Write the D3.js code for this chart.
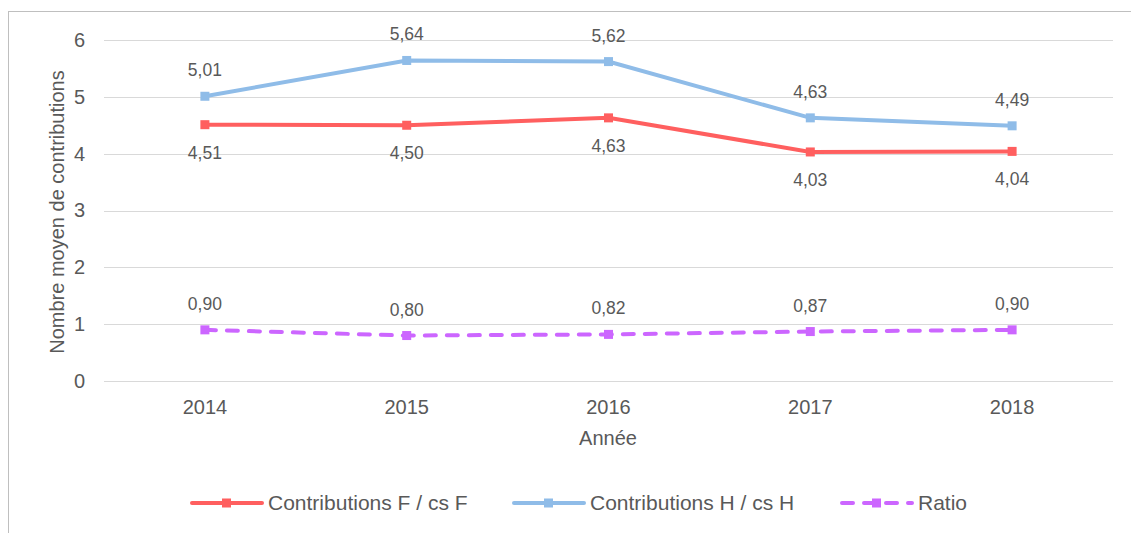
<!DOCTYPE html>
<html>
<head>
<meta charset="utf-8">
<script src="https://cdn.jsdelivr.net/npm/d3@7"></script>
<style>
  body { margin: 0; background: #fff; }
  text { font-family: "Liberation Sans", Arial, sans-serif; fill: #595959; }
</style>
</head>
<body>
<svg id="chart" width="1131" height="533"></svg>
<script>
var years = ["2014", "2015", "2016", "2017", "2018"];
var contribF = [4.51, 4.50, 4.63, 4.03, 4.04];
var contribH = [5.01, 5.64, 5.62, 4.63, 4.49];
var ratio = [0.90, 0.80, 0.82, 0.87, 0.90];
var yTicks = [0, 1, 2, 3, 4, 5, 6];

var series = [
    { name: "Contributions F / cs F", values: contribF, color: "#FF5F5F", dash: null, labelPos: "below" },
    { name: "Contributions H / cs H", values: contribH, color: "#8FBCE8", dash: null, labelPos: "above" },
    { name: "Ratio", values: ratio, color: "#CC66FF", dash: "11,11", labelPos: "above" }
];

var svg = d3.select("#chart");

// outer chart frame
svg.append("rect")
   .attr("x", 8.5).attr("y", 11.5)
   .attr("width", 1140).attr("height", 540)
   .attr("fill", "none")
   .attr("stroke", "#BFBFBF")
   .attr("stroke-width", 1);

var x = d3.scaleBand().domain(years).range([104, 1113]);
var y = d3.scaleLinear().domain([0, 6]).range([381, 40]);
var fmt = v => d3.format(".2f")(v).replace(".", ",");

// gridlines
svg.append("g")
   .selectAll("line")
   .data(yTicks)
   .enter()
   .append("line")
   .attr("x1", 104).attr("x2", 1113)
   .attr("y1", d => Math.round(y(d)) + 0.5)
   .attr("y2", d => Math.round(y(d)) + 0.5)
   .attr("stroke", "#D9D9D9")
   .attr("stroke-width", 1.2);

var yAxis = svg.append("g")
   .attr("transform", "translate(104,0)")
   .call(d3.axisLeft(y).tickValues(yTicks).tickFormat(d3.format("d")).tickSize(0).tickPadding(19));
yAxis.select(".domain").remove();
yAxis.selectAll("text").style("font-size", "20px").attr("fill", "#595959")
     .style("font-family", "Liberation Sans, Arial, sans-serif");

var xAxis = svg.append("g")
   .attr("transform", "translate(0,381)")
   .call(d3.axisBottom(x).tickSize(0).tickPadding(19));
xAxis.select(".domain").remove();
xAxis.selectAll("text").style("font-size", "20px").attr("fill", "#595959")
     .style("font-family", "Liberation Sans, Arial, sans-serif");

svg.append("text")
   .attr("transform", "translate(64,212) rotate(-90)")
   .attr("text-anchor", "middle")
   .style("font-size", "20px")
   .text("Nombre moyen de contributions");

svg.append("text")
   .attr("x", 608).attr("y", 445)
   .attr("text-anchor", "middle")
   .style("font-size", "20px")
   .text("Année");

var line = d3.line()
   .x((d, i) => x(years[i]) + x.bandwidth() / 2)
   .y(d => y(d));

series.forEach(s => {
    var g = svg.append("g");
    g.append("path")
     .attr("d", line(s.values))
     .attr("fill", "none")
     .attr("stroke", s.color)
     .attr("stroke-width", 4)
     .attr("stroke-linecap", s.dash ? "round" : "butt")
     .attr("stroke-dasharray", s.dash);

    g.selectAll("rect")
     .data(s.values)
     .enter()
     .append("rect")
     .attr("x", (d, i) => x(years[i]) + x.bandwidth() / 2 - 4.5)
     .attr("y", d => y(d) - 4.5)
     .attr("width", 9).attr("height", 9)
     .attr("fill", s.color);

    g.selectAll("text")
     .data(s.values)
     .enter()
     .append("text")
     .attr("x", (d, i) => x(years[i]) + x.bandwidth() / 2)
     .attr("y", d => s.labelPos === "above" ? y(d) - 20 : y(d) + 34)
     .attr("text-anchor", "middle")
     .style("font-size", "17.5px")
     .text(d => fmt(d));
});

// legend
var legendX = [190, 512, 840];
series.forEach((s, i) => {
    var lg = svg.append("g").attr("transform", "translate(" + legendX[i] + ",503)");
    lg.append("line")
      .attr("x1", 2).attr("x2", 72)
      .attr("y1", 0).attr("y2", 0)
      .attr("stroke", s.color)
      .attr("stroke-width", 4)
      .attr("stroke-linecap", "round")
      .attr("stroke-dasharray", s.dash);
    lg.append("rect")
      .attr("x", 32).attr("y", -4.5)
      .attr("width", 9).attr("height", 9)
      .attr("fill", s.color);
    lg.append("text")
      .attr("x", 78).attr("y", 7)
      .style("font-size", "21px")
      .text(s.name);
});
</script>
</body>
</html>
